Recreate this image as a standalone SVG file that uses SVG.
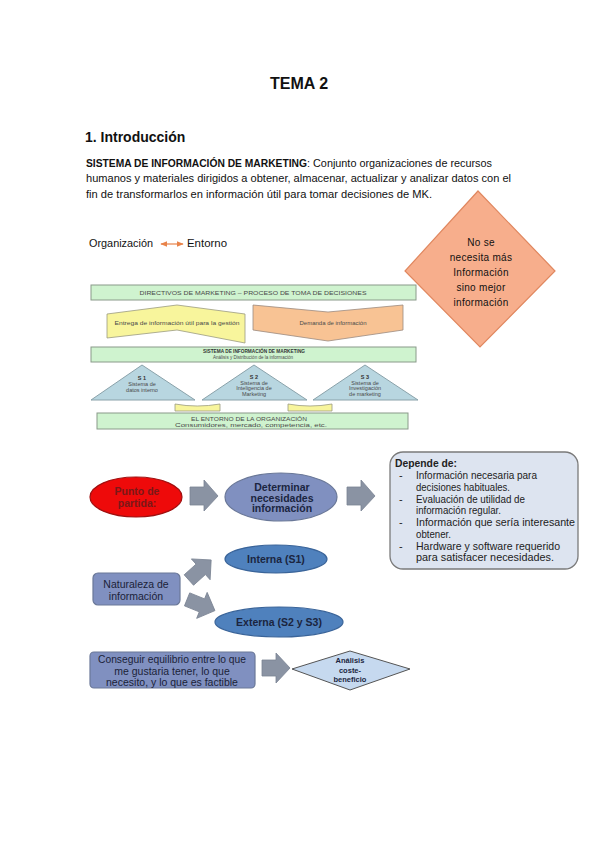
<svg xmlns="http://www.w3.org/2000/svg" xmlns:xlink="http://www.w3.org/1999/xlink" width="599" height="848" viewBox="0 0 599 848">
<style>
text{font-family:"Liberation Sans",Arial,sans-serif;}
.h{font-weight:bold;fill:#111;}
.p{font-size:11px;fill:#111;}
.tiny{font-size:5.5px;fill:#4a4a4a;text-anchor:middle;}
.tb{font-weight:bold;fill:#333;}
.green{fill:#cff3cf;stroke:#8a9a8a;stroke-width:1;}
.tri{fill:#b8d6e0;stroke:#8aa2aa;stroke-width:1;}
.garrow{fill:#8a93a3;stroke:#7a8393;stroke-width:0.8;}
.slate{fill:#8090c0;stroke:#6a7898;stroke-width:1.2;}
.navy{fill:#1b2540;font-weight:bold;font-size:10.5px;text-anchor:middle;}
.red{fill:#7a1818;font-weight:bold;font-size:10.5px;text-anchor:middle;}
.dep{font-size:11px;fill:#222;}
.dia{font-size:10px;fill:#111;text-anchor:middle;letter-spacing:0.3px;}
.small{font-size:7.5px;}
</style>
<defs>
<marker id="oh" viewBox="0 0 10 10" refX="9" refY="5" markerWidth="6" markerHeight="6" orient="auto-start-reverse"><path d="M0,1 L10,5 L0,9 Z" fill="#e8834a"/></marker>
<path id="blk" d="M-15,-7 H1 V-14 L15,0 L1,14 V7 H-15 Z"/>
</defs>
<rect width="599" height="848" fill="#ffffff"/>

<g id="header">
<text class="h" x="299" y="89" font-size="16" text-anchor="middle">TEMA 2</text>
<text class="h" x="85" y="142" font-size="14">1. Introducción</text>
<text class="p" x="86" y="166.5" font-weight="bold" textLength="221" lengthAdjust="spacingAndGlyphs">SISTEMA DE INFORMACIÓN DE MARKETING</text>
<text class="p" x="307" y="166.5" textLength="185" lengthAdjust="spacingAndGlyphs">: Conjunto organizaciones de recursos</text>
<text class="p" x="86" y="182" textLength="425" lengthAdjust="spacingAndGlyphs">humanos y materiales dirigidos a obtener, almacenar, actualizar y analizar datos con el</text>
<text class="p" x="86" y="197.5" textLength="346" lengthAdjust="spacingAndGlyphs">fin de transformarlos en información útil para tomar decisiones de MK.</text>
</g>

<g id="org-entorno">
<text class="p" x="89" y="247" textLength="64" lengthAdjust="spacingAndGlyphs">Organización</text>
<text class="p" x="187" y="247" textLength="40" lengthAdjust="spacingAndGlyphs">Entorno</text>
</g>

<g id="connectors">
<line x1="161" y1="244" x2="183" y2="244" stroke="#e8834a" stroke-width="1.2" marker-start="url(#oh)" marker-end="url(#oh)"/>
<path class="garrow" d="M190,487 H204 V480 L218,496 L204,511 V505 H190 Z"/>
<path class="garrow" d="M347,487 H361 V480 L375,496 L361,511 V505 H347 Z"/>
<use class="garrow" href="#blk" xlink:href="#blk" transform="translate(200,570) rotate(-42)"/>
<use class="garrow" href="#blk" xlink:href="#blk" transform="translate(201,605) rotate(22)"/>
<path class="garrow" d="M262,660 H276 V653 L290,668 L276,683 V676 H262 Z"/>
</g>

<g id="diamond-info">
<polygon points="478,191 555,271 480,347 405,271" fill="#f7ae8c" stroke="#e0875f" stroke-width="1.2"/>
<text class="dia" x="481" y="246">No se</text>
<text class="dia" x="481" y="261">necesita más</text>
<text class="dia" x="481" y="276">Información</text>
<text class="dia" x="481" y="291">sino mejor</text>
<text class="dia" x="481" y="306">información</text>
</g>

<g id="directivos">
<rect class="green" x="91" y="285" width="325" height="15"/>
<text class="tiny" x="253" y="295" textLength="227" lengthAdjust="spacingAndGlyphs">DIRECTIVOS DE MARKETING – PROCESO DE TOMA DE DECISIONES</text>
</g>
<g id="entrega">
<polygon points="107,314 177,305 245,314 245,343 177,330 107,338" fill="#f8f59c" stroke="#9a9a80" stroke-width="0.8"/>
<text class="tiny" x="177" y="325" textLength="125" lengthAdjust="spacingAndGlyphs">Entrega de información útil para la gestión</text>
</g>
<g id="demanda">
<polygon points="253,305 328,312 403,305 403,330 328,341 253,330" fill="#f8c394" stroke="#9a8a80" stroke-width="0.8"/>
<text class="tiny" x="333" y="325" textLength="67" lengthAdjust="spacingAndGlyphs">Demanda de información</text>
</g>
<g id="sim">
<rect class="green" x="91" y="347" width="325" height="15"/>
<text class="tiny tb" x="254" y="353" textLength="102" lengthAdjust="spacingAndGlyphs">SISTEMA DE INFORMACIÓN DE MARKETING</text>
<text class="tiny" x="253" y="359" textLength="80" lengthAdjust="spacingAndGlyphs">Análisis y Distribución de la información</text>
</g>
<g id="s1">
<polygon class="tri" points="142,365 195,400 91,400"/>
<text class="tiny tb" x="142" y="380">S 1</text>
<text class="tiny" x="142" y="386">Sistema de</text>
<text class="tiny" x="142" y="391.5">datos interno</text>
</g>
<g id="s2">
<polygon class="tri" points="254,365 307,400 202,400"/>
<text class="tiny tb" x="254" y="379">S 2</text>
<text class="tiny" x="254" y="384.5">Sistema de</text>
<text class="tiny" x="254" y="390">Inteligencia de</text>
<text class="tiny" x="254" y="395.5">Marketing</text>
</g>
<g id="s3">
<polygon class="tri" points="365,365 418,400 313,400"/>
<text class="tiny tb" x="365" y="379">S 3</text>
<text class="tiny" x="365" y="384.5">Sistema de</text>
<text class="tiny" x="365" y="390">Investigación</text>
<text class="tiny" x="365" y="395.5">de marketing</text>
</g>
<g id="links">
<path d="M175,404 Q197,408 220,404 L220,411 L175,411 Z" fill="#f8f59c" stroke="#9a9a80" stroke-width="0.8"/>
<path d="M288,404 Q310,408 332,404 L332,411 L288,411 Z" fill="#f8f59c" stroke="#9a9a80" stroke-width="0.8"/>
</g>
<g id="entorno">
<rect class="green" x="97" y="413" width="311" height="16"/>
<text class="tiny" x="249" y="421" textLength="116" lengthAdjust="spacingAndGlyphs">EL ENTORNO DE LA ORGANIZACIÓN</text>
<text class="tiny" x="251" y="427" textLength="152" lengthAdjust="spacingAndGlyphs">Consumidores, mercado, competencia, etc.</text>
</g>

<g id="punto">
<ellipse cx="136" cy="497" rx="46" ry="20" fill="#ee0a0a" stroke="#a01010" stroke-width="1.2"/>
<text class="red" x="137" y="495">Punto de</text>
<text class="red" x="137" y="507">partida:</text>
</g>
<g id="determinar">
<ellipse class="slate" cx="281" cy="497" rx="56" ry="24"/>
<text class="navy" x="282" y="491">Determinar</text>
<text class="navy" x="282" y="501.5">necesidades</text>
<text class="navy" x="282" y="512">información</text>
</g>
<g id="depende">
<rect x="390" y="452" width="188" height="117" rx="13" fill="#dde4f0" stroke="#7a7a7a" stroke-width="1.3"/>
<text class="dep" x="395" y="467" font-weight="bold" textLength="62" lengthAdjust="spacingAndGlyphs">Depende de:</text>
<text class="dep" x="399" y="479">-</text>
<text class="dep" x="416" y="479" textLength="121" lengthAdjust="spacingAndGlyphs">Información necesaria para</text>
<text class="dep" x="416" y="490.5" textLength="94" lengthAdjust="spacingAndGlyphs">decisiones habituales.</text>
<text class="dep" x="399" y="502.5">-</text>
<text class="dep" x="416" y="502.5" textLength="109" lengthAdjust="spacingAndGlyphs">Evaluación de utilidad de</text>
<text class="dep" x="416" y="514" textLength="85" lengthAdjust="spacingAndGlyphs">información regular.</text>
<text class="dep" x="399" y="526">-</text>
<text class="dep" x="416" y="526" textLength="159" lengthAdjust="spacingAndGlyphs">Información que sería interesante</text>
<text class="dep" x="416" y="537.5" textLength="35" lengthAdjust="spacingAndGlyphs">obtener.</text>
<text class="dep" x="399" y="549.5">-</text>
<text class="dep" x="416" y="549.5" textLength="144" lengthAdjust="spacingAndGlyphs">Hardware y software requerido</text>
<text class="dep" x="416" y="561" textLength="138" lengthAdjust="spacingAndGlyphs">para satisfacer necesidades.</text>
</g>

<g id="naturaleza">
<rect class="slate" x="93" y="573" width="87" height="32" rx="5"/>
<text x="136" y="588" font-size="10.5" fill="#1b1f38" text-anchor="middle">Naturaleza de</text>
<text x="136" y="600" font-size="10.5" fill="#1b1f38" text-anchor="middle">información</text>
</g>
<g id="interna">
<ellipse cx="276" cy="559" rx="51" ry="14" fill="#4f81bd" stroke="#3a6499" stroke-width="1.2"/>
<text class="navy" x="276" y="563">Interna (S1)</text>
</g>
<g id="externa">
<ellipse cx="279" cy="622" rx="64" ry="15" fill="#4f81bd" stroke="#3a6499" stroke-width="1.2"/>
<text class="navy" x="279" y="626">Externa (S2 y S3)</text>
</g>

<g id="equilibrio">
<rect class="slate" x="90" y="652" width="165" height="36" rx="4"/>
<text x="172" y="663" font-size="10.5" fill="#1b1f38" text-anchor="middle" textLength="148" lengthAdjust="spacingAndGlyphs">Conseguir equilibrio entre lo que</text>
<text x="172" y="675" font-size="10.5" fill="#1b1f38" text-anchor="middle">me gustaria tener, lo que</text>
<text x="172" y="686" font-size="10.5" fill="#1b1f38" text-anchor="middle">necesito, y lo que es factible</text>
</g>
<g id="analisis">
<polygon points="350,651 410,669 350,690 292,669" fill="#c6d9ef" stroke="#555" stroke-width="1"/>
<text class="navy small" x="350" y="663">Análisis</text>
<text class="navy small" x="350" y="672.5">coste-</text>
<text class="navy small" x="350" y="682">beneficio</text>
</g>
</svg>
